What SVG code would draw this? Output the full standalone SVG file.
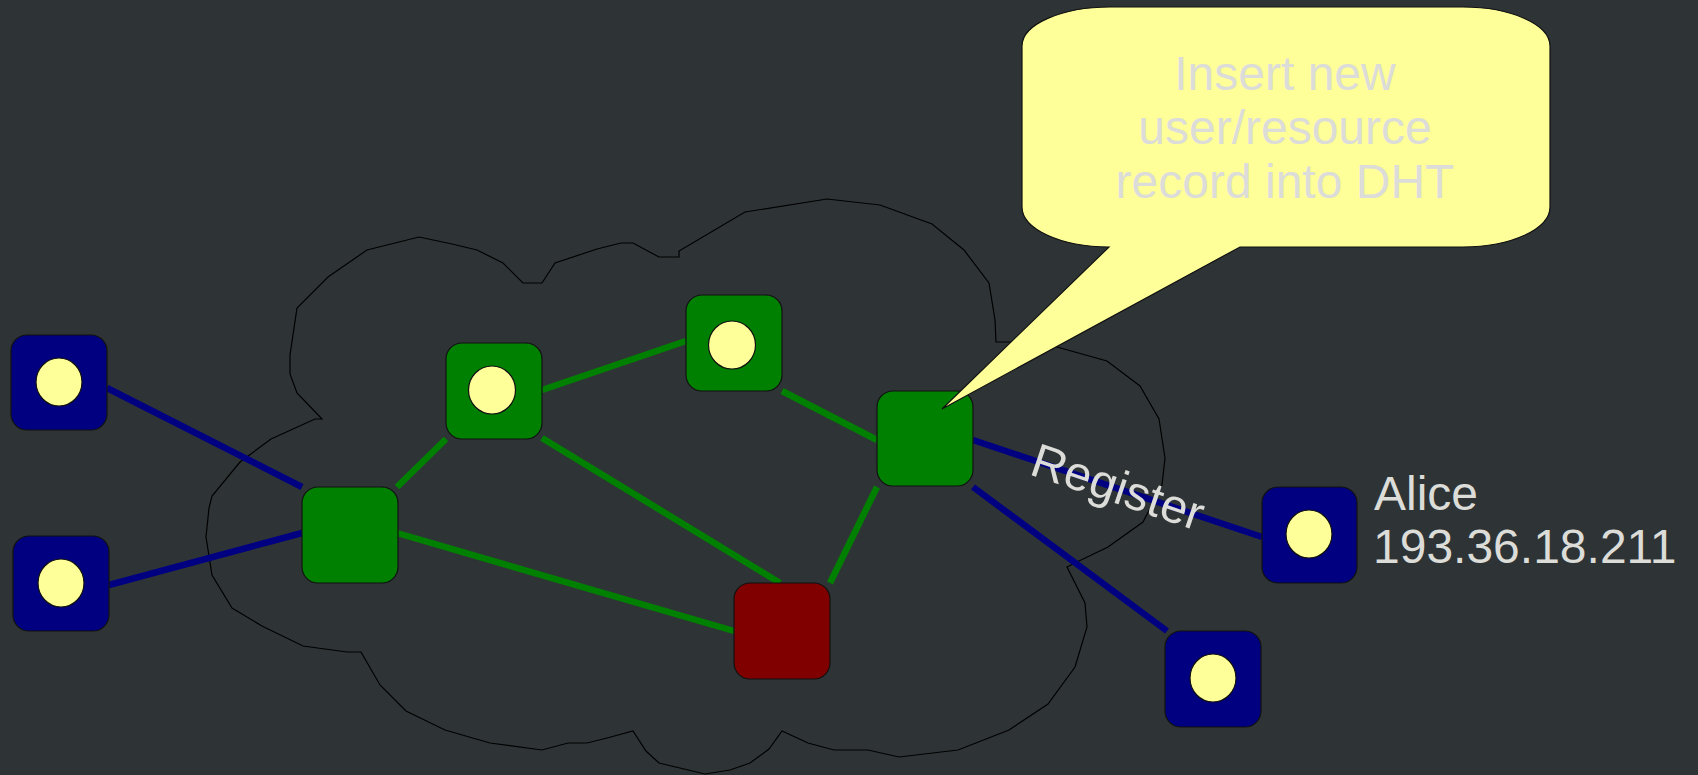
<svg xmlns="http://www.w3.org/2000/svg" width="1698" height="775" viewBox="0 0 1698 775">
<style>
.bg{fill:#2e3436}
.cloud{fill:none;stroke:#000;stroke-width:1.2;stroke-linejoin:miter}
.node{stroke:#111;stroke-width:1.2}
.blue{fill:#000080}
.green{fill:#008000}
.red{fill:#800000}
.dot{fill:#ffff99;stroke:#111;stroke-width:1.2}
.cb{stroke:#000080;stroke-width:6.5;fill:none}
.cg{stroke:#008000;stroke-width:6.5;fill:none}
.lbl{font-family:"Liberation Sans",Arial,sans-serif;font-size:48px;fill:#dcdcd8}
.balloon{fill:#ffff99;stroke:#111;stroke-width:1.2}
</style>
<rect class="bg" x="0" y="0" width="1698" height="775"/>
<g id="cloud">
<polygon class="cloud" points="419,237 452,244 477,250 503,263 523,283 542,283 555,263 597,249 621,243 633,243 659,257 679,257 679,251 745,212 827,199 880,205 932,224 964,250 989,283 995,320 996,342 1010,342 1040,342 1057,347 1107,361 1140,386 1159,419 1165,458 1162,485 1143,522 1108,547 1079,561 1067,567 1085,603 1087,627 1075,667 1048,704 1009,730 958,750 899,757 868,750 834,750 808,743 782,731 769,749 750,763 730,770 705,774 659,763 646,751 633,731 607,738 587,743 568,743 542,750 490,743 445,730 406,711 380,685 361,652 347,652 303,646 262,626 232,608 212,575 206,537 209,508 212,496 240,462 271,439 315,419 322,419 297,393 290,374 290,355 297,308 328,277 367,250"/>
</g>
<g id="connectors">
<line class="cb" x1="107" y1="388" x2="302" y2="487"/>
<line class="cb" x1="109" y1="585" x2="302" y2="533"/>
<line class="cb" x1="973" y1="440" x2="1262" y2="537"/>
<line class="cb" x1="973" y1="487" x2="1167" y2="631"/>
<line class="cg" x1="397" y1="487" x2="446" y2="439"/>
<line class="cg" x1="542" y1="390" x2="686" y2="341"/>
<line class="cg" x1="542" y1="438" x2="780" y2="583"/>
<line class="cg" x1="397" y1="533" x2="734" y2="631"/>
<line class="cg" x1="782" y1="391" x2="877" y2="440"/>
<line class="cg" x1="877" y1="487" x2="830" y2="583"/>
<text class="lbl" transform="translate(1028,474) rotate(18.6)">Register</text>
</g>
<g id="node-client1">
<rect class="node blue" x="11" y="335" width="96" height="95" rx="16"/>
<ellipse class="dot" cx="59" cy="382" rx="23" ry="24"/>
</g>
<g id="node-client2">
<rect class="node blue" x="13" y="536" width="96" height="95" rx="16"/>
<ellipse class="dot" cx="61" cy="583" rx="23" ry="24"/>
</g>
<g id="node-alice">
<rect class="node blue" x="1262" y="487" width="95" height="96" rx="16"/>
<ellipse class="dot" cx="1309" cy="534" rx="23" ry="24"/>
<text class="lbl" x="1374" y="510">Alice</text>
<text class="lbl" x="1373" y="563">193.36.18.211</text>
</g>
<g id="node-client4">
<rect class="node blue" x="1165" y="631" width="96" height="96" rx="16"/>
<ellipse class="dot" cx="1213" cy="678" rx="23" ry="24"/>
</g>
<g id="node-peerA">
<rect class="node green" x="302" y="487" width="96" height="96" rx="16"/>
</g>
<g id="node-peerB">
<rect class="node green" x="446" y="343" width="96" height="96" rx="16"/>
<ellipse class="dot" cx="492" cy="390" rx="23.5" ry="24"/>
</g>
<g id="node-peerC">
<rect class="node green" x="686" y="295" width="96" height="96" rx="16"/>
<ellipse class="dot" cx="732" cy="345" rx="23.5" ry="24"/>
</g>
<g id="node-peerD">
<rect class="node green" x="877" y="391" width="96" height="95" rx="16"/>
</g>
<g id="node-red">
<rect class="node red" x="734" y="583" width="96" height="96" rx="16"/>
</g>
<g id="node-balloon">
<path class="balloon" d="M1110,7 L1463,7 A87,39 0 0 1 1550,46 L1550,207 A87,40 0 0 1 1463,247 L1240,247 L942,409 L1109,247 A87,40 0 0 1 1022,207 L1022,46 A88,39 0 0 1 1110,7 Z"/>
<text class="lbl" text-anchor="middle" x="1285" y="90">Insert new</text>
<text class="lbl" text-anchor="middle" x="1285" y="144">user/resource</text>
<text class="lbl" text-anchor="middle" x="1285" y="198">record into DHT</text>
</g>
</svg>
